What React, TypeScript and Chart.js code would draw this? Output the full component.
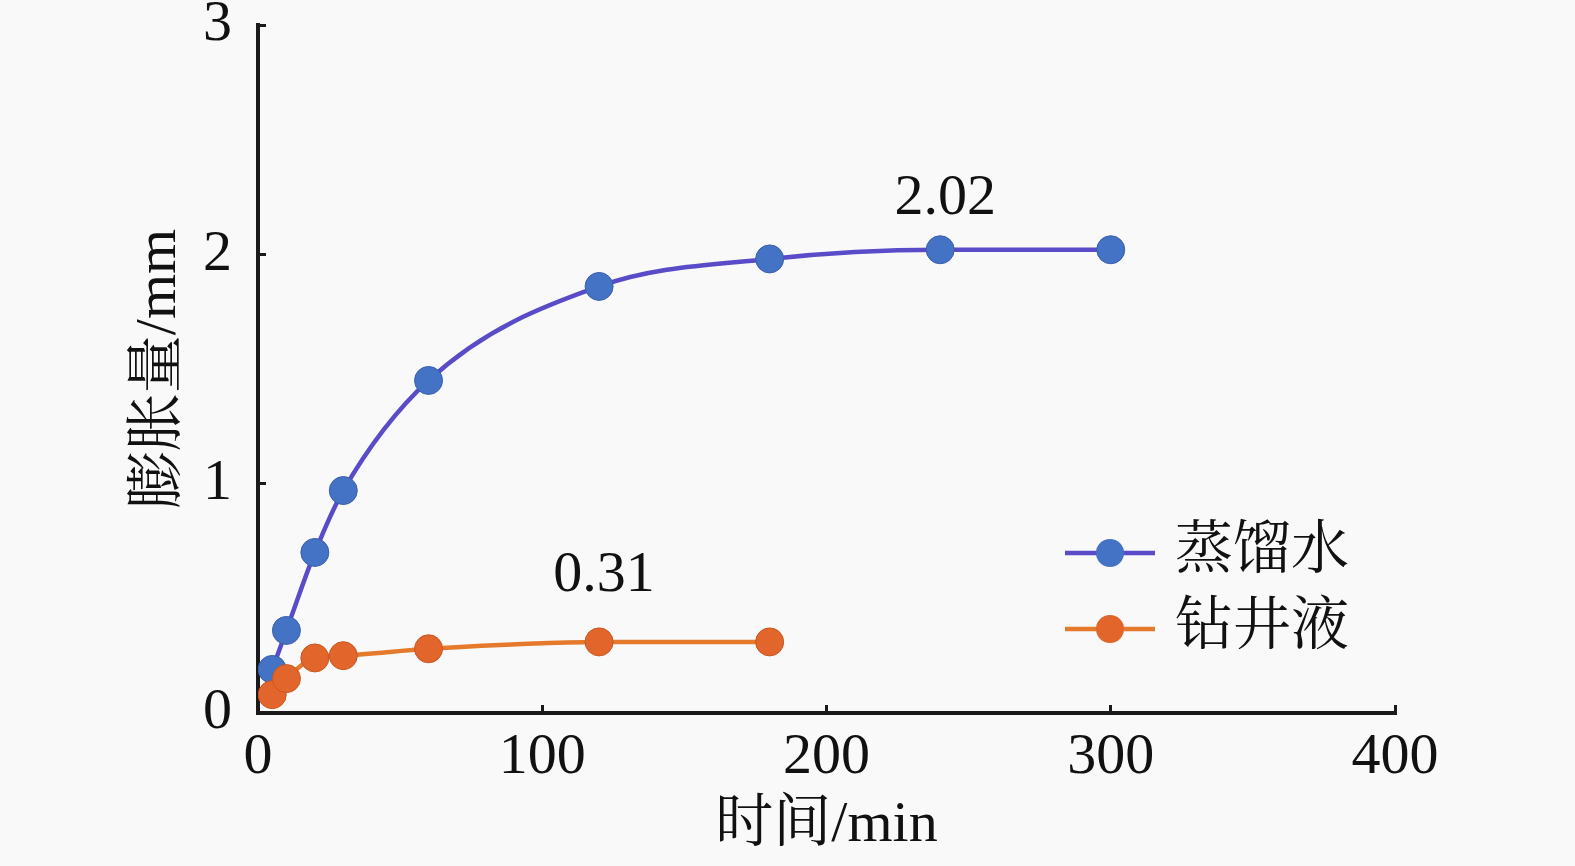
import React, { useEffect, useRef } from 'react';
import { Chart, registerables } from 'chart.js';
import type { Plugin } from 'chart.js';

Chart.register(...registerables);

// time (min) / swelling (mm)
const waterTimes = [5, 10, 20, 30, 60, 120, 180, 240, 300];
const waterSwell = [0.19, 0.36, 0.70, 0.97, 1.45, 1.86, 1.98, 2.02, 2.02];
const mudTimes = [5, 10, 20, 30, 60, 120, 180];
const mudSwell = [0.08, 0.15, 0.24, 0.25, 0.28, 0.31, 0.31];

const seriesNames = ['蒸馏水', '钻井液'];
const xTicks = [0, 100, 200, 300, 400];
const yTicks = [0, 1, 2, 3];
// points that carry a value label: [series index, time]
const labelledPoints: [number, number][] = [[0, 240], [1, 120]];

const FONT = '"Liberation Serif", "Noto Serif CJK SC", "Noto Sans CJK SC", serif';
const SIZE = 58;
const lineColors = ['#5a4cc8', '#e57a2c'];
const markerColors = ['#4472c4', '#e2662c'];

const toXY = (xs: number[], ys: number[]) => xs.map((x, i) => ({ x, y: ys[i] }));

const background: Plugin = {
  id: 'background',
  beforeDraw(chart) {
    const { ctx, width, height } = chart;
    ctx.save();
    ctx.fillStyle = '#f9f9f9';
    ctx.fillRect(0, 0, width, height);
    ctx.restore();
  },
};

const extras: Plugin = {
  id: 'extras',
  afterDatasetsDraw(chart) {
    const { ctx } = chart;
    ctx.save();
    ctx.font = `${SIZE}px ${FONT}`;
    ctx.fillStyle = '#111';
    ctx.textAlign = 'center';
    ctx.textBaseline = 'middle';
    labelledPoints.forEach(([s, t]) => {
      // datasets are stored in reverse order (orange first so it is on top)
      const dsIndex = s === 0 ? 1 : 0;
      const ds = chart.data.datasets[dsIndex];
      const idx = (ds.data as { x: number; y: number }[]).findIndex((p) => p.x === t);
      const el = chart.getDatasetMeta(dsIndex).data[idx];
      const v = (ds.data[idx] as { y: number }).y;
      const lift = s === 0 ? 51 : 66;
      ctx.fillText(v.toFixed(2), el.x + 5, el.y - lift);
    });

    // legend: line with marker, then name
    seriesNames.forEach((name, i) => {
      const y = 553 + i * 76;
      ctx.strokeStyle = lineColors[i];
      ctx.lineWidth = 4.5;
      ctx.beginPath();
      ctx.moveTo(1065, y);
      ctx.lineTo(1155, y);
      ctx.stroke();
      ctx.fillStyle = markerColors[i];
      ctx.beginPath();
      ctx.arc(1110, y, 14, 0, Math.PI * 2);
      ctx.fill();
      ctx.fillStyle = '#111';
      ctx.textAlign = 'left';
      ctx.fillText(name, 1175, y);
    });
    ctx.restore();
  },
};

export default function App() {
  const canvasRef = useRef<HTMLCanvasElement>(null);

  useEffect(() => {
    if (!canvasRef.current) return () => { /* nothing */ };
    const chart = new Chart(canvasRef.current, {
      type: 'line',
      data: {
        datasets: [
          {
            label: seriesNames[1],
            data: toXY(mudTimes, mudSwell),
            borderColor: lineColors[1],
            backgroundColor: markerColors[1],
            pointBackgroundColor: markerColors[1],
            pointBorderColor: '#c9561f',
            pointBorderWidth: 1,
            pointRadius: 14,
            borderWidth: 4.5,
            cubicInterpolationMode: 'monotone',
          },
          {
            label: seriesNames[0],
            data: toXY(waterTimes, waterSwell),
            borderColor: lineColors[0],
            backgroundColor: markerColors[0],
            pointBackgroundColor: markerColors[0],
            pointBorderColor: '#3a5fae',
            pointBorderWidth: 1,
            pointRadius: 14,
            borderWidth: 4.5,
            cubicInterpolationMode: 'monotone',
          },
        ],
      },
      options: {
        animation: false,
        responsive: true,
        maintainAspectRatio: false,
        layout: { padding: { top: 25, right: 180, left: 0, bottom: 0 } },
        plugins: {
          legend: { display: false },
          tooltip: { enabled: false },
        },
        scales: {
          x: {
            type: 'linear',
            min: 0,
            max: 400,
            afterFit(scale) {
              scale.height = 153;
              scale.paddingLeft = 0;
              scale.paddingRight = 0;
            },
            afterBuildTicks(scale) { scale.ticks = xTicks.map((value) => ({ value })); },
            border: { display: true, color: '#1a1a1a', width: 4 },
            grid: {
              drawOnChartArea: false,
              drawTicks: true,
              tickLength: -8,
              color: '#1a1a1a',
              lineWidth: 3,
            },
            ticks: {
              color: '#111',
              padding: 24,
              font: { family: FONT, size: SIZE, lineHeight: 1 },
            },
            title: {
              display: true,
              text: '时间/min',
              color: '#111',
              padding: { top: 0, bottom: 11 },
              font: { family: FONT, size: SIZE, lineHeight: 1 },
            },
          },
          y: {
            type: 'linear',
            min: 0,
            max: 3,
            afterFit(scale) {
              scale.width = 258;
              scale.paddingTop = 0;
              scale.paddingBottom = 0;
            },
            afterBuildTicks(scale) { scale.ticks = yTicks.map((value) => ({ value })); },
            border: { display: true, color: '#1a1a1a', width: 4 },
            grid: {
              drawOnChartArea: false,
              drawTicks: true,
              tickLength: -8,
              color: '#1a1a1a',
              lineWidth: 3,
            },
            ticks: {
              color: '#111',
              padding: 34,
              font: { family: FONT, size: SIZE, lineHeight: 1 },
            },
            title: {
              display: true,
              text: '膨胀量/mm',
              color: '#111',
              padding: { top: 131, bottom: 0 },
              font: { family: FONT, size: SIZE, lineHeight: 1 },
            },
          },
        },
      },
      plugins: [background, extras],
    });
    return () => {
      chart.destroy();
    };
  }, []);

  return (
    <div style={{ position: 'fixed', left: 0, top: 0, width: 1575, height: 866 }}>
      <canvas ref={canvasRef} />
    </div>
  );
}
